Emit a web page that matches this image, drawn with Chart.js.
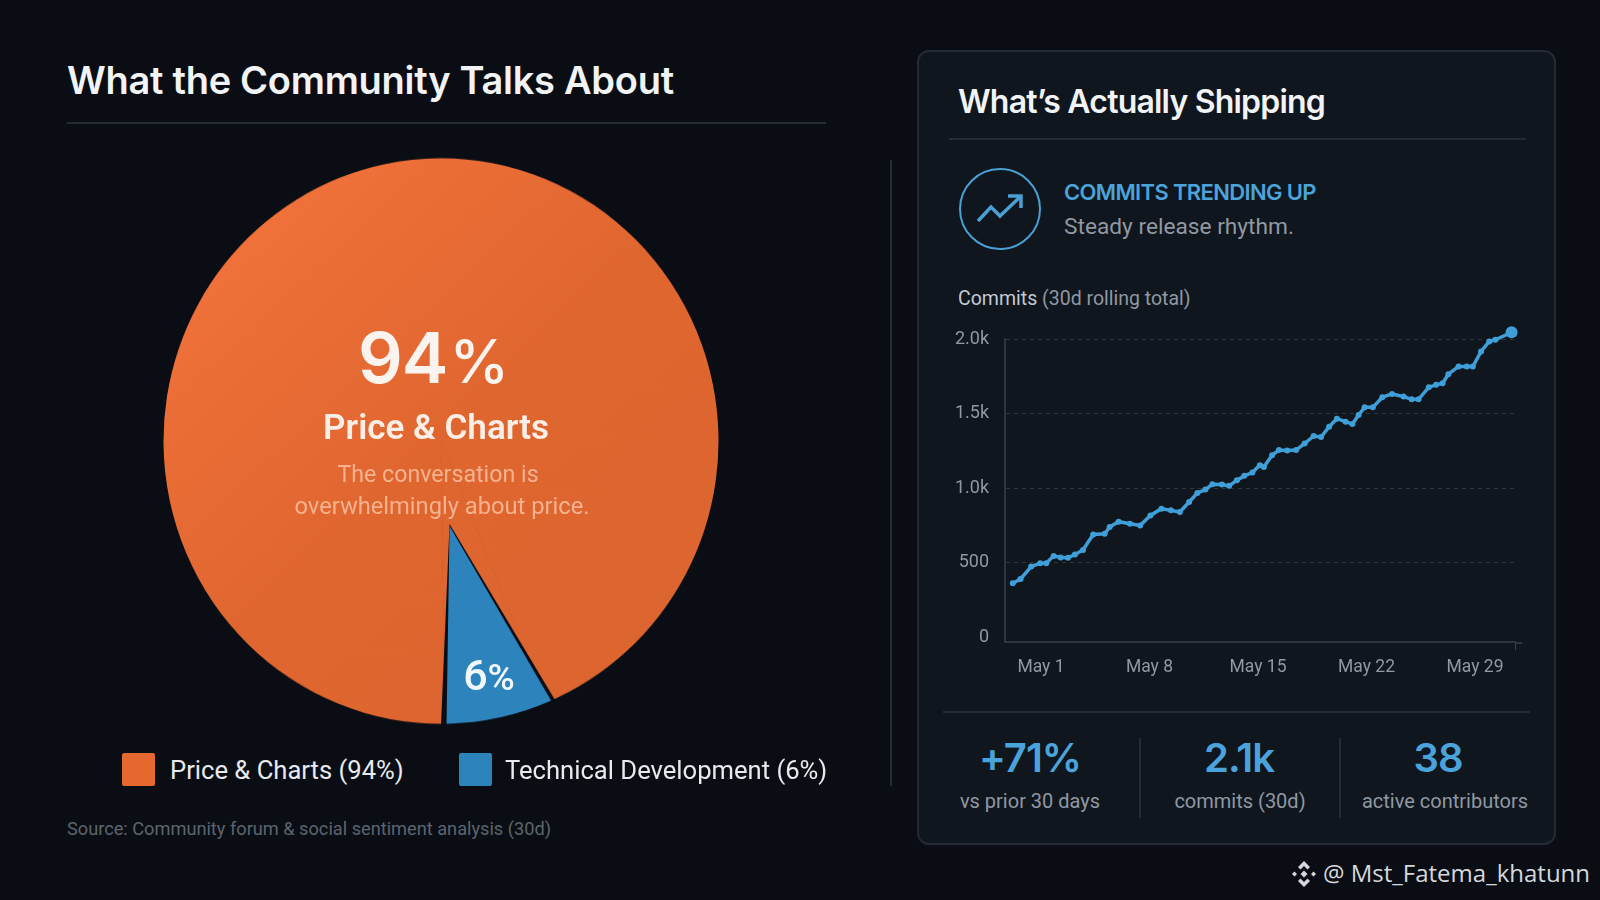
<!DOCTYPE html>
<html lang="en">
<head>
<meta charset="UTF-8">
<title>Community vs Shipping</title>
<style>
    html, body { margin: 0; padding: 0; width: 1600px; height: 900px; overflow: hidden; background: #0a0e14; }
    body { position: relative; font-family: Roboto, sans-serif; color: #fff; }
    .abs { position: absolute; white-space: nowrap; line-height: 1; transform: translateY(-50%); }
    .mid { transform: translate(-50%, -50%); }
    .rule { position: absolute; background: #242b34; }
    #card { position: absolute; left: 917px; top: 50px; width: 639px; height: 795px; box-sizing: border-box;
            background: #10161d; border: 2px solid #232a33; border-radius: 12px; }
    canvas { position: absolute; display: block; }
    .swatch { position: absolute; width: 33px; height: 33px; border-radius: 2px; }
    .stat { font-family: Inter, sans-serif; font-weight: 600; font-size: 40px; color: #4ba3dc; letter-spacing: -1px; }
    .statlabel { font-size: 20px; color: #8f98a3; }
</style>
</head>
<body>
    <div class="abs" style="left:67px;top:80px;font:600 38px Inter,sans-serif;color:#f1f3f5;letter-spacing:-0.28px">What the Community Talks About</div>
    <div class="rule" style="left:67px;top:122px;width:759px;height:2px"></div>
    <div class="rule" style="left:890px;top:160px;width:2px;height:626px"></div>

    <canvas id="pieChart" width="600" height="600" style="left:141px;top:141px;transform:scaleY(1.019)"></canvas>

    <div class="abs mid" style="left:433px;top:358px;font-family:Inter,sans-serif;font-weight:600;font-size:70px;letter-spacing:-1px;color:#fbf3ee">94<span style="font-size:60px;font-weight:500;margin-left:2px">%</span></div>
    <div class="abs mid" style="left:436px;top:427px;font:600 35px Roboto,sans-serif;color:#fbeee6">Price &amp; Charts</div>
    <div class="abs mid" style="left:438px;top:475px;font-size:23.2px;color:#f6b28f">The conversation is</div>
    <div class="abs mid" style="left:442px;top:507px;font-size:23.7px;color:#f6b28f">overwhelmingly about price.</div>
    <div class="abs mid" style="left:489px;top:675px;font:500 43px Roboto,sans-serif;color:#f2f7fb">6<span style="font-size:37px">%</span></div>

    <div id="legend"></div>
    <div class="abs" style="left:67px;top:829px;font-size:18.2px;color:#5c646e">Source: Community forum &amp; social sentiment analysis (30d)</div>

    <div id="card"></div>
    <div class="abs" style="left:958px;top:101px;font:600 32px Inter,sans-serif;color:#f1f3f5;letter-spacing:-0.8px">What’s Actually Shipping</div>
    <div class="rule" style="left:949px;top:138px;width:577px;height:2px"></div>
    <svg style="position:absolute;left:958px;top:167px" width="84" height="84" viewBox="0 0 84 84" fill="none" stroke="#4a9fd4">
        <circle cx="42" cy="42" r="40" stroke-width="2"/>
        <path d="M20 54 L33 40 L42 49 L62 30 M50 29 H63 V41" stroke-width="3.5"/>
    </svg>
    <div class="abs" style="left:1064px;top:192px;font:600 22px Inter,sans-serif;color:#4ba3dc;letter-spacing:-0.65px">COMMITS TRENDING UP</div>
    <div class="abs" style="left:1064px;top:227px;font-size:22.7px;color:#9098a2">Steady release rhythm.</div>
    <div class="abs" style="left:958px;top:299px;font-size:19.5px;color:#8f98a3"><span style="color:#c3c9d0">Commits</span> (30d rolling total)</div>

    <canvas id="lineChart" width="640" height="374" style="left:930px;top:311px"></canvas>
    <div class="rule" style="left:1515px;top:642px;width:7px;height:2px;background:#2d343d"></div>

    <div class="rule" style="left:943px;top:711px;width:587px;height:2px"></div>
    <div class="rule" style="left:1139px;top:738px;width:2px;height:80px"></div>
    <div class="rule" style="left:1339px;top:738px;width:2px;height:80px"></div>
    <div id="stats"></div>

    <svg style="position:absolute;left:1290px;top:860px" width="28" height="28" viewBox="0 0 28 28" fill="#d5d8dc">
        <path d="M14 1 L20 7 L17.5 9.500 L14 6 L10.500 9.500 L8 7 Z M14 27 L8 21 L10.500 18.500 L14 22 L17.500 18.500 L20 21 Z M14 10.500 L17.500 14 L14 17.500 L10.500 14 Z M4.500 11.500 L7 14 L4.500 16.500 L2 14 Z M23.500 11.500 L26 14 L23.500 16.500 L21 14 Z"/>
    </svg>
    <div class="abs" style="left:1323px;top:872px;font:400 24px 'Open Sans',sans-serif;color:#d5d8dc">@ Mst_Fatema_khatunn</div>

    <script src="https://cdn.jsdelivr.net/npm/chart.js"></script>
    <script>
        var topicLabels = ['Price & Charts', 'Technical Development'];
        var topicShares = [94, 6];
        var topicColors = ['#e5682f', '#2d84bc'];

        var commitDays = [-0.82, -0.32, 0.37, 0.95, 1.34, 1.82, 2.27, 2.74, 3.19, 3.71, 4.37, 5.11, 5.43, 6.01, 6.74, 7.40,
            8.06, 8.77, 9.38, 9.96, 10.56, 11.09, 11.61, 12.06, 12.67, 13.14, 13.64, 14.12, 14.64, 15.12, 15.38, 15.91,
            16.35, 16.88, 17.46, 18.01, 18.59, 19.07, 19.59, 20.09, 20.65, 21.09, 21.49, 21.88, 22.41, 23.02, 23.65,
            24.39, 24.91, 25.36, 26.02, 26.49, 26.91, 27.28, 27.94, 28.47, 28.86, 29.39, 29.92, 30.31, 31.36];
        var commitTotals = [363, 392, 475, 498, 498, 547, 536, 534, 556, 587, 690, 695, 740, 776, 762, 751,
            818, 863, 852, 841, 908, 969, 991, 1027, 1025, 1016, 1054, 1083, 1105, 1155, 1143, 1222,
            1256, 1253, 1256, 1300, 1350, 1343, 1412, 1466, 1446, 1430, 1491, 1542, 1542, 1610, 1632,
            1614, 1596, 1596, 1677, 1693, 1704, 1764, 1816, 1816, 1816, 1917, 1984, 1995, 2045];
        var xTickDays = [1, 8, 15, 22, 29];
        var yTicks = [0, 500, 1000, 1500, 2000];

        var statValues = ['+71%', '2.1k', '38'];
        var statLabels = ['vs prior 30 days', 'commits (30d)', 'active contributors'];

        // legend and stat row, built from the arrays above
        var swatchLeft = [122, 459];
        var legendText = [170, 505];
        var legendHtml = '';
        topicLabels.forEach(function (label, i) {
            legendHtml += '<div class="swatch" style="left:' + swatchLeft[i] + 'px;top:753px;background:' + topicColors[i] + '"></div>';
            legendHtml += '<div class="abs" style="left:' + legendText[i] + 'px;top:771px;font-size:25.6px;color:#e8eaec">' +
                label.replace('&', '&amp;') + ' (' + topicShares[i] + '%)</div>';
        });
        document.getElementById('legend').innerHTML = legendHtml;

        var valueCenters = [1030, 1239, 1438];
        var labelCenters = [1030, 1240, 1445];
        var statsHtml = '';
        statValues.forEach(function (val, i) {
            statsHtml += '<div class="abs mid stat" style="left:' + valueCenters[i] + 'px;top:758px">' + val + '</div>';
            statsHtml += '<div class="abs mid statlabel" style="left:' + labelCenters[i] + 'px;top:801px">' + statLabels[i] + '</div>';
        });
        document.getElementById('stats').innerHTML = statsHtml;

        // the small slice keeps its arc from the data but its tip sits below the pie centre
        var wedgeTip = { angle: 174 * Math.PI / 180, dist: 0.295 };
        var wedgePlugin = {
            id: 'wedgeSlice',
            beforeDatasetsDraw: function (chart) {
                var slice = chart.getDatasetMeta(0).data[1];
                slice.draw = function (ctx) {
                    var r = this.outerRadius;
                    var tipX = this.x + Math.sin(wedgeTip.angle) * r * wedgeTip.dist;
                    var tipY = this.y - Math.cos(wedgeTip.angle) * r * wedgeTip.dist;
                    ctx.save();
                    // orange under the part of the sector the tip leaves open
                    ctx.beginPath();
                    ctx.moveTo(this.x, this.y);
                    ctx.arc(this.x, this.y, r, this.startAngle, this.endAngle);
                    ctx.closePath();
                    ctx.fillStyle = orangeFill;
                    ctx.strokeStyle = orangeFill;
                    ctx.lineWidth = 1;
                    ctx.fill();
                    ctx.stroke();
                    // dark gap
                    ctx.beginPath();
                    ctx.moveTo(tipX, tipY);
                    ctx.arc(this.x, this.y, r + 1.5, this.startAngle - 0.031, this.endAngle + 0.014);
                    ctx.closePath();
                    ctx.fillStyle = '#0a0e14';
                    ctx.fill();
                    // blue face
                    ctx.beginPath();
                    ctx.moveTo(tipX, tipY + 2);
                    ctx.arc(this.x, this.y, r, this.startAngle - 0.017, this.endAngle - 0.006);
                    ctx.closePath();
                    ctx.fillStyle = this.options.backgroundColor;
                    ctx.fill();
                    ctx.restore();
                };
            }
        };

        var pieCtx = document.getElementById('pieChart').getContext('2d');
        var orangeFill = pieCtx.createLinearGradient(60, 60, 520, 560);
        orangeFill.addColorStop(0, '#f4733c');
        orangeFill.addColorStop(0.5, '#e0662f');
        orangeFill.addColorStop(1, '#dc652f');

        new Chart(pieCtx, {
            type: 'pie',
            data: {
                labels: topicLabels,
                datasets: [{
                    data: topicShares,
                    backgroundColor: [orangeFill, topicColors[1]],
                    borderWidth: 0
                }]
            },
            options: {
                responsive: false,
                animation: false,
                rotation: 179.2,
                layout: { padding: 22.5 },
                plugins: { legend: { display: false }, tooltip: { enabled: false } }
            },
            plugins: [wedgePlugin]
        });

        var lastIndex = commitTotals.length - 1;
        var endTick = 31.58;

        // the last point sits just above 2.0k, chart.js skips points outside the area
        var lastPointPlugin = {
            id: 'lastPoint',
            afterDatasetsDraw: function (chart) {
                chart.getDatasetMeta(0).data[lastIndex].draw(chart.ctx);
            }
        };

        new Chart(document.getElementById('lineChart').getContext('2d'), {
            type: 'scatter',
            data: {
                datasets: [{
                    data: commitDays.map(function (d, i) { return { x: d, y: commitTotals[i] }; }),
                    showLine: true,
                    clip: false,
                    borderColor: '#3f9fd8',
                    backgroundColor: '#3f9fd8',
                    borderWidth: 3.5,
                    pointRadius: function (c) { return c.dataIndex === lastIndex ? 6 : 3; },
                    pointBorderWidth: 0
                }]
            },
            options: {
                responsive: false,
                animation: false,
                layout: { padding: { left: 0, right: 55, top: 28, bottom: 0 } },
                plugins: { legend: { display: false }, tooltip: { enabled: false } },
                scales: {
                    x: {
                        type: 'linear',
                        min: -1.32,
                        max: endTick,
                        afterBuildTicks: function (axis) {
                            axis.ticks = xTickDays.concat([endTick]).map(function (v) { return { value: v }; });
                        },
                        border: { color: '#2d343d', width: 2 },
                        grid: {
                            drawOnChartArea: false,
                            tickLength: 8,
                            tickColor: function (c) { return c.tick && c.tick.value === endTick ? '#3a414a' : 'transparent'; }
                        },
                        ticks: {
                            autoSkip: false,
                            maxRotation: 0,
                            padding: 7,
                            color: '#8f98a3',
                            font: { family: 'Roboto', size: 17.5 },
                            callback: function (v) { return v === endTick ? '' : 'May ' + v; }
                        }
                    },
                    y: {
                        min: -30,
                        max: 2000,
                        afterBuildTicks: function (axis) {
                            axis.ticks = yTicks.map(function (v) { return { value: v }; });
                        },
                        afterFit: function (axis) { axis.width = 75; },
                        border: { color: '#2d343d', width: 2, dash: [4, 4] },
                        grid: {
                            drawTicks: false,
                            lineWidth: 1,
                            color: function (c) { return c.tick && c.tick.value === 0 ? 'transparent' : '#2f3640'; }
                        },
                        ticks: {
                            padding: 16,
                            color: '#8f98a3',
                            font: { family: 'Roboto', size: 18 },
                            callback: function (v) { return v === 0 ? '0' : v === 500 ? '500' : (v / 1000).toFixed(1) + 'k'; }
                        }
                    }
                }
            },
            plugins: [lastPointPlugin]
        });
    </script>
</body>
</html>
